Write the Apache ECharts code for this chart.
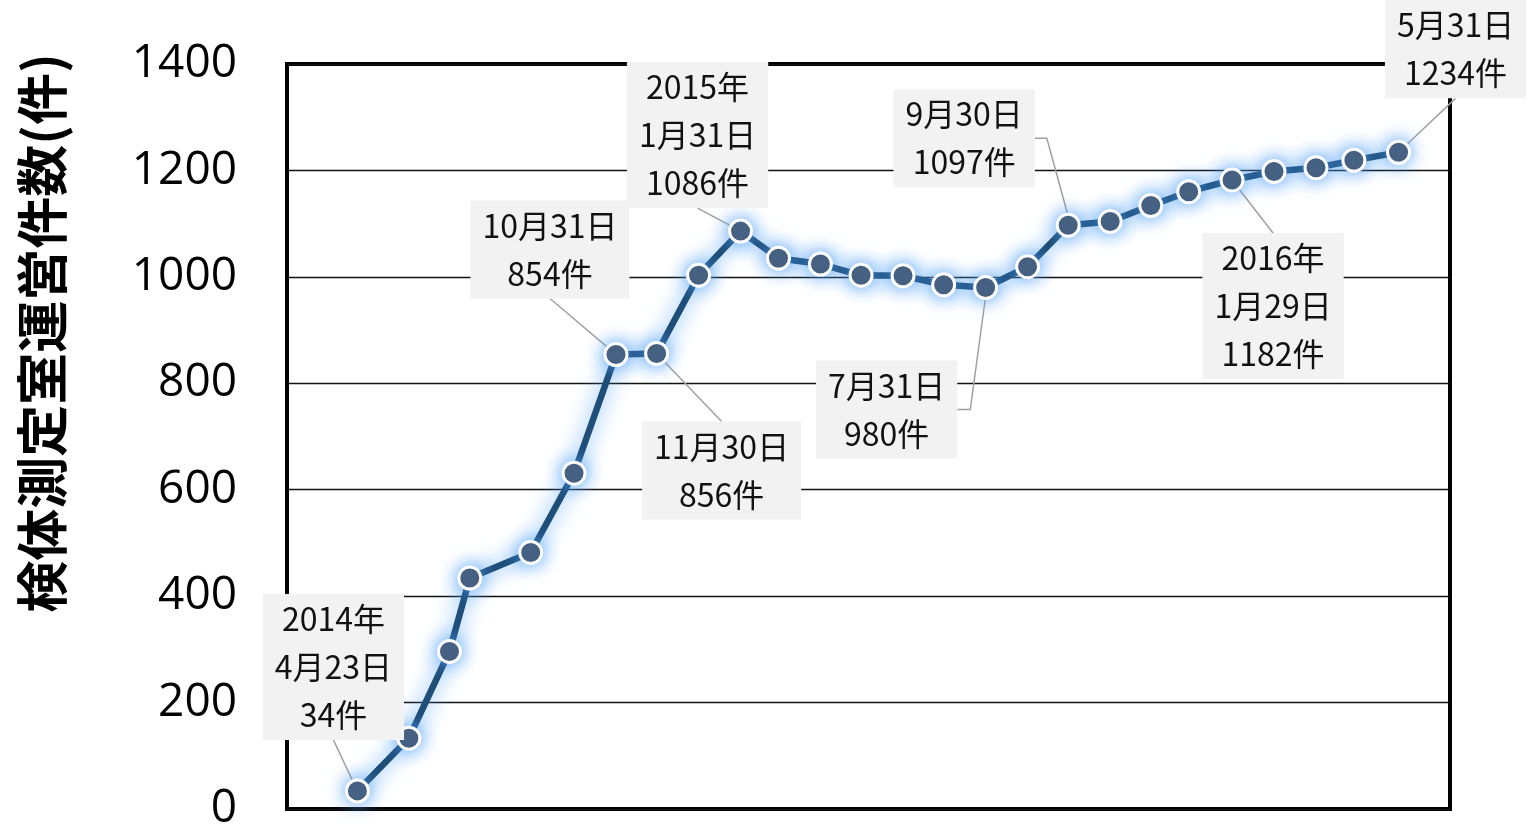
<!DOCTYPE html>
<html>
<head>
<meta charset="utf-8">
<script src="https://cdn.jsdelivr.net/npm/echarts@6/dist/echarts.min.js"></script>
<style>html,body{margin:0;padding:0;background:#fff;overflow:hidden}#c{width:1528px;height:832px}</style>
</head>
<body>
<div id="c"></div>
<script>
var dates = ['2014-04-23','2014-05-31','2014-06-30','2014-07-15','2014-08-29','2014-09-30','2014-10-31','2014-11-30','2014-12-31','2015-01-31','2015-02-28','2015-03-31','2015-04-30','2015-05-31','2015-06-30','2015-07-31','2015-08-31','2015-09-30','2015-10-31','2015-11-30','2015-12-28','2016-01-29','2016-02-29','2016-03-31','2016-04-28','2016-05-31'];
var counts = [34,133,296,434,482,631,854,856,1003,1086,1035,1024,1003,1002,985,980,1019,1097,1104,1134,1160,1182,1198,1205,1219,1234];
var callouts = {
  0: '2014年\n4月23日\n34件',
  6: '10月31日\n854件',
  7: '11月30日\n856件',
  9: '2015年\n1月31日\n1086件',
  15: '7月31日\n980件',
  17: '9月30日\n1097件',
  21: '2016年\n1月29日\n1182件',
  25: '5月31日\n1234件'
};
var yTicks = [0,200,400,600,800,1000,1200,1400];
var yTitle = '検体測定室運営件数(件)';

// label offsets (style only): [dx, dy, elbow]
var offsets = {
  0: [-24,-124], 6: [-66,-105], 7: [65,117], 9: [-43,-96],
  15: [-99,122,'a'], 17: [-104,-87,'b'], 21: [41,126], 25: [57,-103]
};

var data = dates.map(function(d,i){
  var item = {value:[d, counts[i]]};
  if (callouts[i]) {
    item.label = {show:true, formatter: callouts[i]};
    if (offsets[i] && offsets[i][2]) item.labelLine = {show:false};
  }
  return item;
});

var elbowGeo = {};
var chart = echarts.init(document.getElementById('c'));
var lineCol = '#a0a0a0';
chart.setOption({
  animation:false,
  grid:{left:287,right:78,top:64,bottom:17,show:true,borderColor:'#000',borderWidth:4,backgroundColor:'transparent'},
  xAxis:{type:'time',min:'2014-03-02',max:'2016-07-08',
    axisLine:{show:false},axisTick:{show:false},axisLabel:{show:false},splitLine:{show:false}},
  yAxis:{type:'value',min:yTicks[0],max:yTicks[yTicks.length-1],interval:200,
    axisLine:{show:false},axisTick:{show:false},
    axisLabel:{margin:50,fontSize:46,color:'#000',fontFamily:'Open Sans',formatter:function(v){return String(v);}},
    splitLine:{lineStyle:{color:'#111',width:1.3}}},
  series:[{
    type:'line',
    data:data,
    symbol:'circle',symbolSize:22,
    lineStyle:{color:'#1f4e79',width:6.5,shadowBlur:20,shadowColor:'rgba(80,160,245,0.9)'},
    itemStyle:{color:'#44546a',borderColor:'#fff',borderWidth:3,shadowBlur:18,shadowColor:'rgba(80,160,245,0.9)'},
    label:{show:false,position:'inside',fontSize:32,lineHeight:48,color:'#111',
      fontFamily:'"Noto Sans CJK JP"',backgroundColor:'#f2f2f2',padding:[1,12],align:'center'},
    labelLine:{show:true,lineStyle:{color:lineCol,width:1.5}},
    labelLayout:function(p){
      var o = offsets[p.dataIndex];
      if (!o) return {};
      var r = p.labelRect, e = p.rect;
      if (o[2]) {
        elbowGeo[p.dataIndex] = {cx:e.x+e.width/2, cy:e.y+e.height/2,
          lx:r.x+o[0], ly:r.y+o[1], w:r.width, h:r.height, kind:o[2]};
      }
      return {dx:o[0], dy:o[1]};
    }
  }]
});

// elbow leader lines built from the rendered label geometry
var g = [{type:'text',x:42,y:333,rotation:Math.PI/2,
    style:{text:yTitle,font:'bold 52px "Noto Sans CJK JP"',fill:'#000',textAlign:'center',textVerticalAlign:'middle'}}];
Object.keys(elbowGeo).forEach(function(k){
  var q = elbowGeo[k];
  var right = q.lx + q.w, my = q.ly + q.h/2, pts;
  if (q.kind === 'a') pts = [[q.cx, q.cy+9],[right+13, my],[right, my]];
  else pts = [[q.cx, q.cy-9],[right+12, my],[right, my]];
  g.push({type:'polyline',shape:{points:pts},style:{stroke:lineCol,lineWidth:1.5,fill:null},z:3});
});
chart.setOption({graphic:g});
</script>
</body>
</html>
